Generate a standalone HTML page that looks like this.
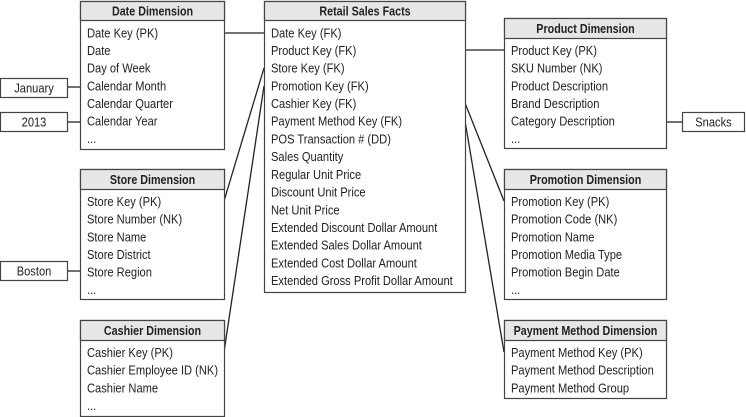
<!DOCTYPE html>
<html><head><meta charset="utf-8"><style>
html,body{margin:0;padding:0;background:#fff;width:746px;height:417px;overflow:hidden}
svg{display:block}
text{font-family:"Liberation Sans Narrow","Liberation Sans",sans-serif;font-size:12.5px;fill:#222}
.h{font-weight:bold;text-anchor:middle}
.c{text-anchor:middle}
.b{fill:#fff;stroke:#444;stroke-width:1.2}
.hd{fill:#e6e6e6;stroke:#444;stroke-width:1.2}
.l{stroke:#222;stroke-width:1.3;fill:none}
</style></head><body>
<svg width="746" height="417" viewBox="0 0 746 417">
<line class="l" x1="224" y1="33" x2="264" y2="33"/>
<line class="l" x1="224" y1="201" x2="264" y2="68"/>
<line class="l" x1="224" y1="352" x2="264" y2="86"/>
<line class="l" x1="465" y1="50" x2="504" y2="50"/>
<line class="l" x1="465" y1="103" x2="504" y2="201"/>
<line class="l" x1="465" y1="121" x2="504" y2="352"/>
<line class="l" x1="68" y1="87" x2="80" y2="87"/>
<line class="l" x1="68" y1="122" x2="80" y2="122"/>
<line class="l" x1="68" y1="271" x2="80" y2="271"/>
<line class="l" x1="666" y1="122" x2="682" y2="122"/>

<!-- Date -->
<rect class="b" x="80.5" y="1.5" width="144" height="148"/>
<rect class="hd" x="80.5" y="1.5" width="144" height="19"/>
<g transform="translate(152.5,0) scale(0.86,1)"><text class="h" x="0" y="15.5">Date Dimension</text></g>
<g transform="translate(87,0) scale(0.89,1)">
<text x="0" y="37.5">Date Key (PK)</text>
<text x="0" y="55">Date</text>
<text x="0" y="72.5">Day of Week</text>
<text x="0" y="90.5">Calendar Month</text>
<text x="0" y="108">Calendar Quarter</text>
<text x="0" y="125.5">Calendar Year</text>
<text x="0" y="143">...</text>
</g>

<!-- Fact -->
<rect class="b" x="264.5" y="1.5" width="201" height="291"/>
<rect class="hd" x="264.5" y="1.5" width="201" height="19"/>
<g transform="translate(365,0) scale(0.86,1)"><text class="h" x="0" y="15.5">Retail Sales Facts</text></g>
<g transform="translate(271,0) scale(0.89,1)">
<text x="0" y="37.5">Date Key (FK)</text>
<text x="0" y="55">Product Key (FK)</text>
<text x="0" y="72.5">Store Key (FK)</text>
<text x="0" y="90.5">Promotion Key (FK)</text>
<text x="0" y="108">Cashier Key (FK)</text>
<text x="0" y="125.5">Payment Method Key (FK)</text>
<text x="0" y="143.5">POS Transaction # (DD)</text>
<text x="0" y="161">Sales Quantity</text>
<text x="0" y="179">Regular Unit Price</text>
<text x="0" y="196.5">Discount Unit Price</text>
<text x="0" y="214.5">Net Unit Price</text>
<text x="0" y="232">Extended Discount Dollar Amount</text>
<text x="0" y="249.5">Extended Sales Dollar Amount</text>
<text x="0" y="267.5">Extended Cost Dollar Amount</text>
<text x="0" y="285">Extended Gross Profit Dollar Amount</text>
</g>

<!-- Product -->
<rect class="b" x="504.5" y="18.5" width="162" height="130"/>
<rect class="hd" x="504.5" y="18.5" width="162" height="20"/>
<g transform="translate(585.5,0) scale(0.86,1)"><text class="h" x="0" y="33">Product Dimension</text></g>
<g transform="translate(511,0) scale(0.89,1)">
<text x="0" y="55">Product Key (PK)</text>
<text x="0" y="72.5">SKU Number (NK)</text>
<text x="0" y="90.5">Product Description</text>
<text x="0" y="108">Brand Description</text>
<text x="0" y="125.5">Category Description</text>
<text x="0" y="143">...</text>
</g>

<!-- Store -->
<rect class="b" x="80.5" y="169.5" width="144" height="130"/>
<rect class="hd" x="80.5" y="169.5" width="144" height="20"/>
<g transform="translate(152.5,0) scale(0.86,1)"><text class="h" x="0" y="184">Store Dimension</text></g>
<g transform="translate(87,0) scale(0.89,1)">
<text x="0" y="206">Store Key (PK)</text>
<text x="0" y="223.5">Store Number (NK)</text>
<text x="0" y="241.5">Store Name</text>
<text x="0" y="259">Store District</text>
<text x="0" y="276.5">Store Region</text>
<text x="0" y="294">...</text>
</g>

<!-- Promotion -->
<rect class="b" x="504.5" y="169.5" width="162" height="130"/>
<rect class="hd" x="504.5" y="169.5" width="162" height="20"/>
<g transform="translate(585.5,0) scale(0.86,1)"><text class="h" x="0" y="184">Promotion Dimension</text></g>
<g transform="translate(511,0) scale(0.89,1)">
<text x="0" y="206">Promotion Key (PK)</text>
<text x="0" y="223.5">Promotion Code (NK)</text>
<text x="0" y="241.5">Promotion Name</text>
<text x="0" y="259">Promotion Media Type</text>
<text x="0" y="276.5">Promotion Begin Date</text>
<text x="0" y="294">...</text>
</g>

<!-- Cashier -->
<rect class="b" x="80.5" y="320.5" width="144" height="96"/>
<rect class="hd" x="80.5" y="320.5" width="144" height="20"/>
<g transform="translate(152.5,0) scale(0.86,1)"><text class="h" x="0" y="335">Cashier Dimension</text></g>
<g transform="translate(87,0) scale(0.89,1)">
<text x="0" y="357">Cashier Key (PK)</text>
<text x="0" y="374.5">Cashier Employee ID (NK)</text>
<text x="0" y="392.5">Cashier Name</text>
<text x="0" y="410">...</text>
</g>

<!-- Payment -->
<rect class="b" x="504.5" y="320.5" width="162" height="78"/>
<rect class="hd" x="504.5" y="320.5" width="162" height="20"/>
<g transform="translate(585.5,0) scale(0.86,1)"><text class="h" x="0" y="335">Payment Method Dimension</text></g>
<g transform="translate(511,0) scale(0.89,1)">
<text x="0" y="357">Payment Method Key (PK)</text>
<text x="0" y="374.5">Payment Method Description</text>
<text x="0" y="392.5">Payment Method Group</text>
</g>

<!-- value boxes -->
<rect class="b" x="0.5" y="78.5" width="67" height="19"/>
<g transform="translate(34,0) scale(0.89,1)"><text class="c" x="0" y="92.5">January</text></g>
<rect class="b" x="0.5" y="112.5" width="67" height="19"/>
<g transform="translate(34,0) scale(0.89,1)"><text class="c" x="0" y="126.5">2013</text></g>
<rect class="b" x="0.5" y="261.5" width="67" height="19"/>
<g transform="translate(34,0) scale(0.89,1)"><text class="c" x="0" y="275.5">Boston</text></g>
<rect class="b" x="682.5" y="112.5" width="62" height="19"/>
<g transform="translate(713.5,0) scale(0.89,1)"><text class="c" x="0" y="126.5">Snacks</text></g>
</svg>
</body></html>
